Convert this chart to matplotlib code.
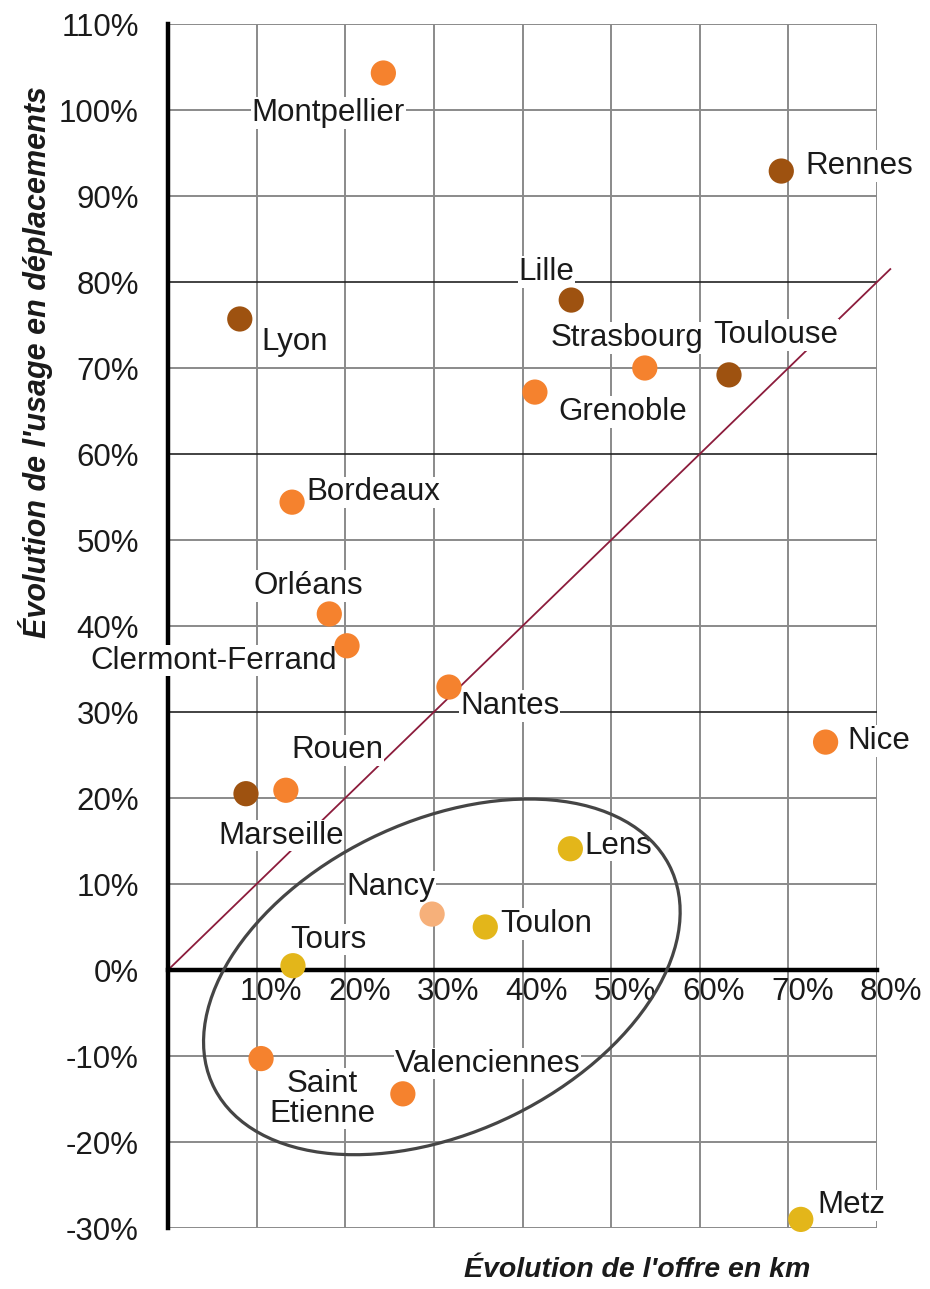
import matplotlib
matplotlib.use("agg")
import matplotlib.pyplot as plt
from matplotlib.patches import Ellipse
from matplotlib.transforms import ScaledTranslation

# données (en %)
villes = ['Montpellier', 'Rennes', 'Lille', 'Lyon', 'Strasbourg', 'Toulouse',
          'Grenoble', 'Bordeaux', 'Orléans', 'Clermont-Ferrand', 'Nantes', 'Nice',
          'Rouen', 'Marseille', 'Lens', 'Nancy', 'Toulon', 'Tours',
          'Saint\nEtienne', 'Valenciennes', 'Metz']
offre = [24.3, 69.2, 45.5, 8.1, 53.8, 63.3,
         41.4, 14.0, 18.2, 20.2, 31.7, 74.2,
         13.3, 8.8, 45.4, 29.8, 35.8, 14.1,
         10.5, 26.5, 71.4]
usage = [104.3, 92.9, 77.9, 75.7, 70.0, 69.2,
         67.2, 54.4, 41.4, 37.7, 32.9, 26.5,
         20.9, 20.5, 14.1, 6.5, 5.0, 0.5,
         -10.3, -14.4, -29.0]
groupe = ['o', 'd', 'd', 'd', 'o', 'd',
          'o', 'o', 'o', 'o', 'o', 'o',
          'o', 'd', 'j', 'c', 'j', 'j',
          'o', 'o', 'j']

x_ticks = [10, 20, 30, 40, 50, 60, 70, 80]
y_ticks = [-30, -20, -10, 0, 10, 20, 30, 40, 50, 60, 70, 80, 90, 100, 110]
diag = [0, 81.5]

couleurs = {'d': '#9E5210', 'o': '#F5822E', 'c': '#F6B07A', 'j': '#E3B61A'}

# position des étiquettes (décalage en pixels, alignement)
decalages = {
    'Montpellier': (-55, -40, 'center'),
    'Rennes': (24, 5, 'left'),
    'Lille': (-25, 28, 'center'),
    'Lyon': (22, -23, 'left'),
    'Strasbourg': (-18, 30, 'center'),
    'Toulouse': (47, 40, 'center'),
    'Grenoble': (23, -20, 'left'),
    'Bordeaux': (14, 10, 'left'),
    'Orléans': (-21, 28, 'center'),
    'Clermont-Ferrand': (-10, -15, 'right'),
    'Nantes': (11, -19, 'left'),
    'Nice': (22, 1, 'left'),
    'Rouen': (52, 40, 'center'),
    'Marseille': (35, -42, 'center'),
    'Lens': (14, 3, 'left'),
    'Nancy': (-41, 27, 'center'),
    'Toulon': (15, 3, 'left'),
    'Tours': (35, 26, 'center'),
    'Saint\nEtienne': (61, -40, 'center'),
    'Valenciennes': (85, 30, 'center'),
    'Metz': (17, 14, 'left'),
}

plt.rcParams['font.family'] = ['Liberation Sans', 'DejaVu Sans']
fs = 22.5

fig = plt.figure(figsize=(9.3, 12.89), dpi=100)
ax = fig.add_axes([168 / 930, 1 - 1228 / 1289, (877 - 168) / 930, (1228 - 24) / 1289])

ax.set_xlim(0, 80)
ax.set_ylim(-30, 110)

# grille
for v in x_ticks:
    ax.axvline(v, color='#8a8a8a', lw=1.4, zorder=0.5)
for v in y_ticks:
    c = '#222222' if v in (80, 60, 30) else '#8a8a8a'
    ax.axhline(v, color=c, lw=1.2 if c == '#222222' else 1.4, zorder=0.5)

for s in ['top', 'right']:
    ax.spines[s].set_visible(False)
ax.spines['left'].set_linewidth(3.2)
ax.spines['left'].set_color('black')
ax.spines['bottom'].set_position(('data', 0))
ax.spines['bottom'].set_linewidth(3.2)
ax.spines['bottom'].set_zorder(2.5)

ax.set_xticks(x_ticks)
ax.set_xticklabels(['%d%%' % v for v in x_ticks])
ax.set_yticks(y_ticks)
ax.set_yticklabels(['%d%%' % v for v in y_ticks])
ax.tick_params(length=0, labelsize=fs, colors='#1a1a1a')
ax.tick_params(axis='y', pad=21)
ax.tick_params(axis='x', pad=5)
for lab in ax.get_xticklabels():
    lab.set_transform(lab.get_transform() + ScaledTranslation(0.14, 0, fig.dpi_scale_trans))

# diagonale
ax.plot(diag, diag, color='#8C1C3C', lw=1.3, zorder=2, clip_on=False)

# points
ax.scatter(offre, usage, s=330, c=[couleurs[g] for g in groupe],
           edgecolors='none', zorder=4.5, clip_on=False)

for nom, x, y in zip(villes, offre, usage):
    dx, dy, ha = decalages[nom]
    ax.annotate(nom, (x, y), xytext=(dx, dy), textcoords='offset pixels',
                ha=ha, va='center', fontsize=fs, color='#1a1a1a',
                linespacing=1.0, zorder=4,
                bbox=dict(facecolor='white', edgecolor='none', pad=0.5))

# ellipse
ax.add_patch(Ellipse((30.9, -0.8), 57.5, 36.0, angle=27, fill=False,
                     edgecolor='#454545', lw=2.3, zorder=5))

fig.text(637 / 930, 1 - 1270 / 1289, "Évolution de l'offre en km", ha='center',
         va='center', fontsize=20.5, style='italic', weight='bold', color='#1a1a1a')
fig.text(36 / 930, 1 - 362 / 1289, "Évolution de l'usage en déplacements", ha='center',
         va='center', rotation=90, fontsize=22, style='italic', weight='bold',
         color='#1a1a1a')

plt.savefig('out.png', dpi=100)
